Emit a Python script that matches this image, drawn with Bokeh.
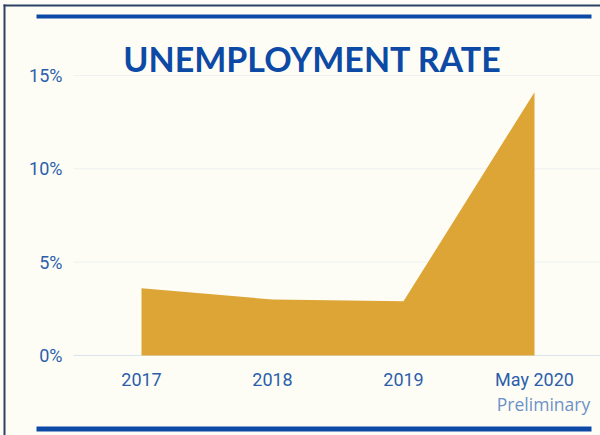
from bokeh.plotting import figure
from bokeh.models import Range1d, BoxAnnotation, Label
from bokeh.embed import file_html
from bokeh.resources import INLINE

# ---- data ----
categories = ["2017", "2018", "2019", "May 2020"]
rates = [3.6, 3.0, 2.9, 14.1]
y_ticks = [0, 5, 10, 15]
y_tick_labels = ["0%", "5%", "10%", "15%"]
title_text = "UNEMPLOYMENT RATE"
note_text = "Preliminary"

xs = list(range(len(categories)))

BG = "#fdfdf6"
BLUE = "#0d4aa6"
TICK_BLUE = "#2c5eaa"
GRID = "#e0e7ee"
ZERO = "#bccfe3"

p = figure(width=600, height=435, output_backend="svg", toolbar_location=None,
           x_range=Range1d(-1.0763, 3.5038), y_range=Range1d(-4.285, 19.014),
           x_axis_type=None, y_axis_type=None, min_border=0, title=None)
p.background_fill_color = BG
p.border_fill_color = BG
p.outline_line_color = None

# horizontal grid lines starting right of the tick labels
for t in y_ticks:
    p.add_layout(BoxAnnotation(left=73, left_units="canvas", top=t, bottom=t,
                               fill_color=None, line_color=ZERO if t == 0 else GRID,
                               line_width=1, level="underlay"))

p.varea(x=xs, y1=[0] * len(xs), y2=rates, fill_color="#dca535", fill_alpha=1.0)

# y tick labels
for t, lab in zip(y_ticks, y_tick_labels):
    p.add_layout(Label(x=62, x_units="canvas", y=t, y_units="data", text=lab,
                       text_font="Roboto", text_font_size="18px",
                       text_color=TICK_BLUE, text_align="right",
                       text_baseline="middle"))

# x category labels
for x, c in zip(xs, categories):
    p.add_layout(Label(x=x, x_units="data", y=379, y_units="canvas", text=c,
                       text_font="Roboto", text_font_size="18px",
                       text_color=TICK_BLUE, text_align="center",
                       text_baseline="middle"))

# "Preliminary" note under the last category
p.add_layout(Label(x=xs[-1], y=403, x_units="data", y_units="canvas",
                   text=note_text, text_font="Open Sans", text_font_size="17.5px",
                   text_color="#6d91c6", text_align="center",
                   text_baseline="middle", x_offset=9))

# title
p.add_layout(Label(x=312, y=58, x_units="canvas", y_units="canvas",
                   text=title_text, text_font="Lato", text_font_style="bold",
                   text_font_size="34px", text_color=BLUE, text_align="center",
                   text_baseline="middle"))

# decorative rules and card border
def box(l, r, t, b, color):
    p.add_layout(BoxAnnotation(left=l, right=r, top=t, bottom=b,
                               left_units="canvas", right_units="canvas",
                               top_units="canvas", bottom_units="canvas",
                               fill_color=color, fill_alpha=1, line_color=None,
                               level="overlay"))

box(36, 591, 14, 18, BLUE)
box(36, 591, 426, 431, BLUE)
box(3, 5, 4, 435, "#2d4266")
box(3, 600, 4, 6, "#2d4266")

open("out.html", "w").write(file_html(p, INLINE))
